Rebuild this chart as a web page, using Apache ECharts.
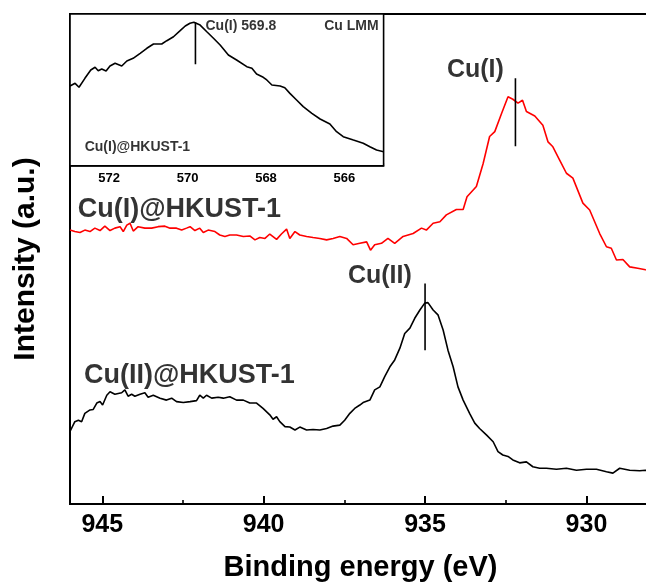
<!DOCTYPE html>
<html>
<head>
<meta charset="utf-8">
<script src="https://cdn.jsdelivr.net/npm/echarts@6/dist/echarts.min.js"></script>
<style>
  html, body { margin: 0; padding: 0; background: #fff; overflow: hidden; }
  #chart { width: 651px; height: 585px; }
</style>
</head>
<body>
<div id="chart"></div>
<script>
// Cu 2p XPS spectra of Cu(II)@HKUST-1 and Cu(I)@HKUST-1, with Cu LMM Auger inset.
const cu2Energy = [946.00,945.85,945.74,945.64,945.54,945.38,945.28,945.17,945.07,944.99,944.86,944.76,944.61,944.40,944.30,944.20,944.09,943.99,943.83,943.68,943.58,943.42,943.21,943.01,942.85,942.70,942.49,942.28,942.08,941.98,941.87,941.77,941.61,941.41,941.25,941.05,940.84,940.63,940.43,940.22,940.02,939.81,939.71,939.60,939.50,939.34,939.19,939.03,938.88,938.67,938.47,938.26,938.05,937.85,937.64,937.49,937.33,937.18,937.02,936.92,936.71,936.56,936.40,936.25,936.09,935.94,935.78,935.63,935.47,935.32,935.16,935.01,934.91,934.75,934.60,934.44,934.29,934.13,933.98,933.82,933.62,933.46,933.31,933.10,932.89,932.74,932.59,932.43,932.28,932.07,931.86,931.66,931.45,931.24,930.93,930.62,930.31,930.00,929.69,929.38,929.18,928.97,928.66,928.35,928.17,928.00];
const cu2Intensity = [14.8,16.8,17.1,16.8,18.5,19.2,19.3,20.6,20.9,20.2,22.2,22.9,22.4,22.7,23.3,22.0,22.4,22.0,22.4,22.7,21.8,22.2,21.6,21.2,21.6,20.9,20.7,20.9,21.1,22.2,21.6,22.2,21.6,21.8,21.6,21.9,21.2,21.2,20.6,20.6,19.5,18.2,17.3,17.8,16.8,15.8,15.7,15.1,15.7,15.1,15.2,15.1,15.4,15.9,16.1,17.1,18.5,19.5,20.2,20.7,21.2,23.3,23.9,26.0,28.0,29.4,31.8,34.8,35.9,37.9,39.6,41.0,41.1,39.6,38.6,35.5,31.4,28.0,23.9,21.2,18.5,16.5,15.4,14.1,12.7,10.7,10.0,9.7,9.0,8.4,8.6,7.6,7.3,7.3,7.1,7.3,6.9,7.1,7.1,6.6,6.3,7.3,6.9,6.8,6.9,6.8];

const cu1Energy = [946.00,945.85,945.69,945.54,945.38,945.23,945.07,944.92,944.76,944.61,944.45,944.35,944.24,944.14,944.04,943.89,943.68,943.47,943.27,943.06,942.90,942.70,942.54,942.39,942.28,942.13,941.98,941.87,941.72,941.51,941.36,941.20,941.05,940.84,940.63,940.43,940.27,940.12,939.96,939.81,939.60,939.45,939.29,939.19,939.03,938.88,938.67,938.47,938.26,938.05,937.85,937.64,937.43,937.23,937.02,936.81,936.69,936.56,936.35,936.15,935.94,935.68,935.37,935.11,934.96,934.75,934.54,934.34,934.03,933.82,933.70,933.41,933.20,933.00,932.84,932.63,932.43,932.28,932.12,931.98,931.86,931.60,931.35,931.19,931.04,930.83,930.62,930.42,930.11,929.90,929.59,929.38,929.23,929.07,928.87,928.66,928.41,928.17,928.00];
const cu1Intensity = [55.9,55.6,55.4,55.9,55.6,56.3,55.8,56.7,55.8,56.3,56.6,55.6,56.9,57.3,55.7,56.6,56.3,56.3,56.6,56.7,56.3,56.3,55.9,56.3,56.6,55.8,56.3,55.4,55.9,55.6,54.9,54.6,54.9,54.9,54.6,54.7,53.9,54.4,54.2,55.1,54.0,55.1,56.1,54.2,55.6,54.9,54.6,54.4,54.2,53.9,54.2,54.6,54.2,52.9,53.2,53.5,51.8,52.9,53.2,54.2,53.2,54.6,55.2,56.3,55.9,57.3,57.6,59.0,60.1,60.1,62.7,64.8,69.5,75.0,76.0,79.7,83.1,82.6,81.8,82.4,80.1,79.2,77.3,73.9,72.9,70.2,67.5,66.5,61.4,60.0,55.2,52.5,52.2,49.8,49.9,48.4,48.1,47.8,47.7];

// Cu LMM Auger region of Cu(I)@HKUST-1 (inset)
const lmmEnergy = [573.00,572.87,572.77,572.62,572.47,572.36,572.28,572.19,572.08,571.98,571.85,571.68,571.55,571.39,571.21,571.04,570.87,570.66,570.53,570.36,570.19,570.06,569.94,569.84,569.68,569.51,569.34,569.17,568.96,568.75,568.49,568.36,568.24,568.07,567.98,567.85,567.64,567.52,567.39,567.22,567.05,566.83,566.62,566.37,566.20,566.03,565.77,565.52,565.35,565.18,565.00];
const lmmIntensity = [52.5,54.3,51.7,57.6,63.1,64.9,62.6,63.7,62.4,65.7,67.5,65.7,69.0,70.8,74.1,77.4,80.2,80.2,82.4,85.0,89.0,92.1,93.9,94.5,92.7,88.3,84.0,79.6,73.0,69.7,65.3,64.2,60.4,58.3,56.5,53.2,52.5,51.4,47.7,43.3,38.9,34.5,30.8,27.5,22.4,19.1,16.9,14.8,12.5,10.3,9.2];

// Tick values
const mainTicks = [930, 935, 940, 945];
const mainMinorTicks = [932.5, 937.5, 942.5];
const insetTicks = [566, 568, 570, 572];
const insetMinorTicks = [565, 567, 569, 571, 573];

// Peak position markers: [energy, top, bottom]
const mainPeaks = [[932.2, 86.9, 73.0], [935.0, 45.0, 31.4]];
const insetPeak = [569.8, 94.5, 66.8];

// Text annotations: [energy, intensity, text]
const mainNotes = [
  [933.44, 88.6, 'Cu(I)'],
  [936.40, 46.5, 'Cu(II)']
];
const sampleNotes = [
  [942.61, 60.0, 'Cu(I)@HKUST-1'],
  [942.30, 26.2, 'Cu(II)@HKUST-1']
];
const insetNotes = [
  [568.64, 92.2, 'Cu(I) 569.8'],
  [565.82, 92.2, 'Cu LMM'],
  [571.28, 12.3, 'Cu(I)@HKUST-1']
];

const zip = (xs, ys) => xs.map((x, i) => [x, ys[i]]);
const FONT = '"Liberation Sans", Arial, Helvetica, sans-serif';

function noteSeries(notes, xi, yi, size) {
  return {
    type: 'scatter', xAxisIndex: xi, yAxisIndex: yi, symbolSize: 0, silent: true, z: 10,
    itemStyle: { color: '#000' },
    data: notes.map(n => ({ value: [n[0], n[1]], name: n[2] })),
    label: {
      show: true, position: 'inside', formatter: p => p.name,
      color: '#000', textBorderWidth: 0, textBorderColor: 'transparent',
      fontFamily: FONT, fontWeight: 'bold', fontSize: size
    }
  };
}

function markerSeries(peak, xi, yi) {
  return {
    type: 'line', xAxisIndex: xi, yAxisIndex: yi, showSymbol: false, silent: true, z: 5,
    data: [[peak[0], peak[1]], [peak[0], peak[2]]],
    lineStyle: { color: '#000', width: 1.6 }
  };
}

const chart = echarts.init(document.getElementById('chart'), null, { renderer: 'canvas' });

chart.setOption({
  animation: false,
  backgroundColor: '#fff',
  grid: [
    { left: 70, top: 14, width: 581, height: 490, outerBoundsMode: 'none', containLabel: false,
      show: true, borderColor: '#000', borderWidth: 2, backgroundColor: 'transparent' },
    { left: 70, top: 14, width: 313.6, height: 151.7, outerBoundsMode: 'none', containLabel: false,
      show: true, borderColor: '#000', borderWidth: 1.6, backgroundColor: '#fff', z: 2 }
  ],
  xAxis: [
    {
      gridIndex: 0, type: 'value', inverse: true, min: 928, max: 946,
      axisLine: { show: true, lineStyle: { color: '#000', width: 2 } },
      axisTick: { show: true, inside: true, length: 8, lineStyle: { color: '#000', width: 2 }, customValues: mainTicks },
      axisLabel: { show: true, customValues: mainTicks, margin: 9, color: '#000', fontFamily: FONT, fontWeight: 'bold', fontSize: 25 },
      splitLine: { show: false },
      name: 'Binding energy (eV)', nameLocation: 'middle', nameGap: 49,
      nameTextStyle: { color: '#000', fontFamily: FONT, fontWeight: 'bold', fontSize: 29 }
    },
    {
      gridIndex: 0, type: 'value', inverse: true, min: 928, max: 946, position: 'bottom',
      axisLine: { show: false },
      axisTick: { show: true, inside: true, length: 4, lineStyle: { color: '#000', width: 1.6 }, customValues: mainMinorTicks },
      axisLabel: { show: false }, splitLine: { show: false }
    },
    {
      gridIndex: 1, type: 'value', inverse: true, min: 565, max: 573,
      axisLine: { show: true, lineStyle: { color: '#000', width: 1.6 } },
      axisTick: { show: true, inside: true, length: 6, lineStyle: { color: '#000', width: 1.4 }, customValues: insetTicks },
      axisLabel: { show: true, customValues: insetTicks, margin: 6, color: '#000', fontFamily: FONT, fontWeight: 'bold', fontSize: 13 },
      splitLine: { show: false }
    },
    {
      gridIndex: 1, type: 'value', inverse: true, min: 565, max: 573, position: 'bottom',
      axisLine: { show: false },
      axisTick: { show: true, inside: true, length: 3, lineStyle: { color: '#000', width: 1.2 }, customValues: insetMinorTicks },
      axisLabel: { show: false }, splitLine: { show: false }
    }
  ],
  yAxis: [
    {
      gridIndex: 0, type: 'value', min: 0, max: 100,
      axisLine: { show: true, lineStyle: { color: '#000', width: 2 } },
      axisTick: { show: false }, axisLabel: { show: false }, splitLine: { show: false },
      name: 'Intensity (a.u.)', nameLocation: 'middle', nameGap: 29, nameRotate: 90,
      nameTextStyle: { color: '#000', fontFamily: FONT, fontWeight: 'bold', fontSize: 30 }
    },
    {
      gridIndex: 1, type: 'value', min: 0, max: 100,
      axisLine: { show: true, lineStyle: { color: '#000', width: 1.6 } },
      axisTick: { show: false }, axisLabel: { show: false }, splitLine: { show: false }
    }
  ],
  series: [
    {
      name: 'Cu(II)@HKUST-1', type: 'line', xAxisIndex: 0, yAxisIndex: 0,
      data: zip(cu2Energy, cu2Intensity), showSymbol: false,
      lineStyle: { color: '#000', width: 1.6 }
    },
    {
      name: 'Cu(I)@HKUST-1', type: 'line', xAxisIndex: 0, yAxisIndex: 0,
      data: zip(cu1Energy, cu1Intensity), showSymbol: false,
      lineStyle: { color: '#ff0000', width: 1.6 }
    },
    {
      name: 'Cu LMM', type: 'line', xAxisIndex: 2, yAxisIndex: 1,
      data: zip(lmmEnergy, lmmIntensity), showSymbol: false, z: 4,
      lineStyle: { color: '#000', width: 1.6 }
    },
    markerSeries(mainPeaks[0], 0, 0),
    markerSeries(mainPeaks[1], 0, 0),
    markerSeries(insetPeak, 2, 1),
    noteSeries(mainNotes, 0, 0, 25),
    noteSeries(sampleNotes, 0, 0, 27),
    noteSeries(insetNotes, 2, 1, 14)
  ]
});
</script>
</body>
</html>
